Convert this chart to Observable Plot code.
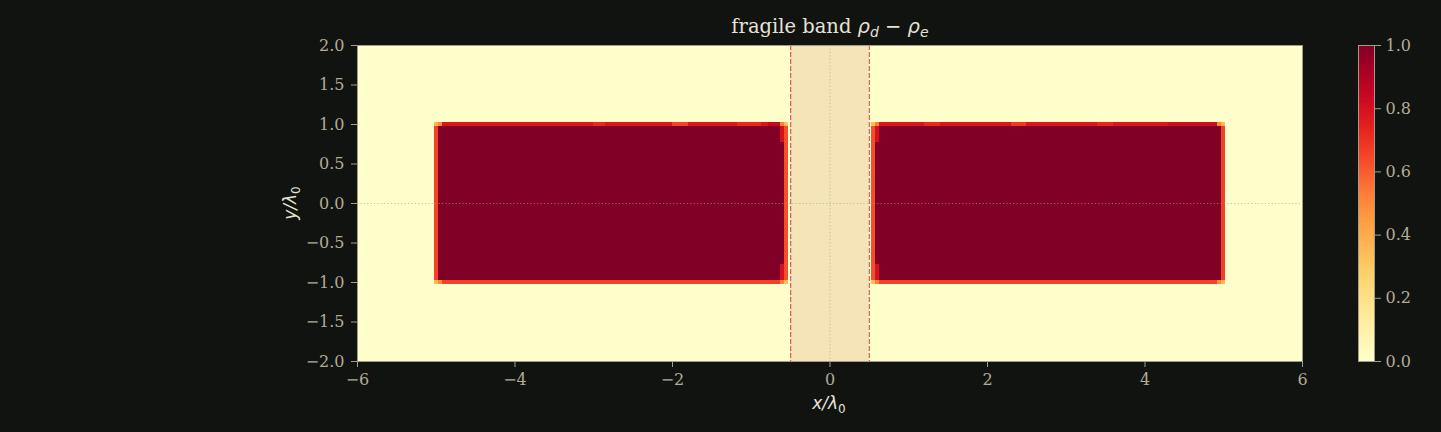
<!DOCTYPE html>
<html>
<head>
<meta charset="utf-8">
<script src="https://cdn.jsdelivr.net/npm/d3@7"></script>
<script src="https://cdn.jsdelivr.net/npm/@observablehq/plot@0.6"></script>
<style>
  html, body { margin: 0; padding: 0; background: #111311; }
  #wrap { position: relative; width: 1441px; height: 432px; background: #111311; }
  #wrap svg { position: absolute; left: 0; top: 0; }
</style>
</head>
<body>
<div id="wrap"></div>
<script>
// ---------- data ----------
const xTicks = [-6, -4, -2, 0, 2, 4, 6];
const yTicks = [-2.0, -1.5, -1.0, -0.5, 0.0, 0.5, 1.0, 1.5, 2.0];
const cbTicks = [0.0, 0.2, 0.4, 0.6, 0.8, 1.0];

// field domain (value 0 background)
const fieldX = [-6, 6];
const fieldY = [-2, 2];
const fieldValue = 0;

// solid blocks (value 1 interior)
const blockX1 = [-4.975, 0.575];
const blockX2 = [-0.575, 4.975];
const blockY1 = [-0.975, -0.975];
const blockY2 = [0.975, 0.975];
const blockValue = [1, 1];

// edge cells of the blocks (0.05-wide grid cells)
const edgeX1 = [
  // left block
  -5.025, -4.975, -4.975, -3.000, -2.000, -1.175, -0.775, -4.975, -0.575, -0.625, -0.625,
  -5.025, -4.975, -0.575, -0.625, -5.025, -4.975, -0.575, -0.625,
  // right block
   4.975,  0.575,  0.575,  1.200,  2.300,  3.400,  4.300,  0.575,  0.525,  0.575,  0.575,
   4.975,  4.925,  0.525,  0.575,  4.975,  4.925,  0.525,  0.575
];
const edgeX2 = [
  -4.975, -0.575, -0.575, -2.850, -1.800, -0.875, -0.575, -0.575, -0.525, -0.575, -0.575,
  -4.975, -4.925, -0.525, -0.575, -4.975, -4.925, -0.525, -0.575,
   5.025,  4.975,  4.975,  1.400,  2.500,  3.600,  4.975,  4.975,  0.575,  0.625,  0.625,
   5.025,  4.975,  0.575,  0.625,  5.025,  4.975,  0.575,  0.625
];
const edgeY1 = [
  -0.975,  0.975, 0.975, 0.975, 0.975, 0.975, 0.975, -1.025, -0.975,  0.775, -0.975,
   0.975,  0.975, 0.975, 0.975, -1.025, -1.025, -1.025, -1.025,
  -0.975,  0.975, 0.975, 0.975, 0.975, 0.975, 0.975, -1.025, -0.975,  0.775, -0.975,
   0.975,  0.975, 0.975, 0.975, -1.025, -1.025, -1.025, -1.025
];
const edgeY2 = [
   0.975,  1.025, 1.025, 1.025, 1.025, 1.025, 1.025, -0.975,  0.975,  0.975, -0.775,
   1.025,  1.025, 1.025, 1.025, -0.975, -0.975, -0.975, -0.975,
   0.975,  1.025, 1.025, 1.025, 1.025, 1.025, 1.025, -0.975,  0.975,  0.975, -0.775,
   1.025,  1.025, 1.025, 1.025, -0.975, -0.975, -0.975, -0.975
];
const edgeValue = [
  0.66, 0.78, 0.78, 0.72, 0.66, 0.72, 0.84, 0.66, 0.63, 0.80, 0.80,
  0.36, 0.50, 0.33, 0.52, 0.36, 0.50, 0.33, 0.52,
  0.66, 0.78, 0.78, 0.72, 0.68, 0.73, 0.82, 0.66, 0.63, 0.80, 0.80,
  0.36, 0.50, 0.33, 0.52, 0.36, 0.50, 0.33, 0.52
];

// fragile band and guide lines
const bandX = [-0.5, 0.5];
const guideX = [0];
const guideY = [0];

// ---------- tables ----------
const field = [{x1: fieldX[0], x2: fieldX[1], y1: fieldY[0], y2: fieldY[1], v: fieldValue}];
const blocks = blockX1.map((_, i) => ({x1: blockX1[i], x2: blockX2[i], y1: blockY1[i], y2: blockY2[i], v: blockValue[i]}));
const edges = edgeX1.map((_, i) => ({x1: edgeX1[i], x2: edgeX2[i], y1: edgeY1[i], y2: edgeY2[i], v: edgeValue[i]}));
const cells = [...field, ...blocks, ...edges];

const tickColor = "#b3ab95";
const spineColor = "#a39c86";
const colorOpt = {type: "linear", scheme: "YlOrRd", domain: [0, 1]};
const fmtMinus = d3.format("d");
const fmt1 = d3.format(".1f");

const main = Plot.plot({
  width: 1441, height: 432,
  marginLeft: 357, marginRight: 139, marginTop: 45, marginBottom: 71,
  x: {domain: [-6, 6]},
  y: {domain: [-2, 2]},
  color: colorOpt,
  style: {background: "transparent", fontFamily: "DejaVu Serif", fontSize: "16px", color: tickColor},
  marks: [
    Plot.rect(cells, {x1: "x1", x2: "x2", y1: "y1", y2: "y2", fill: "v", shapeRendering: "crispEdges"}),
    Plot.rect([bandX], {x1: d => d[0], x2: d => d[1], y1: () => -2, y2: () => 2, fill: "#f4e4b8"}),
    Plot.ruleX(guideX, {stroke: "#a8a08a", strokeWidth: 0.8, strokeDasharray: "1.2,2.2", strokeOpacity: 0.8}),
    Plot.ruleY(guideY, {stroke: "#a8a08a", strokeWidth: 0.8, strokeDasharray: "1.2,2.2", strokeOpacity: 0.8}),
    Plot.ruleX(bandX, {stroke: "#cd5c5c", strokeWidth: 1.3, strokeDasharray: "5,2", strokeOpacity: 0.9}),
    Plot.frame({stroke: spineColor, strokeWidth: 1}),
    Plot.axisX({ticks: xTicks, tickFormat: fmtMinus, tickSize: 6, tickPadding: 6, label: null, stroke: spineColor}),
    Plot.axisY({ticks: yTicks, tickFormat: fmt1, tickSize: 6, tickPadding: 7, label: null, stroke: spineColor})
  ]
});

const cbSteps = d3.range(0, 1, 0.004);
const cb = Plot.plot({
  width: 1441, height: 432,
  marginLeft: 1358, marginRight: 67, marginTop: 45, marginBottom: 71,
  x: {domain: [0, 1], axis: null},
  y: {domain: [0, 1]},
  color: colorOpt,
  style: {background: "transparent", fontFamily: "DejaVu Serif", fontSize: "16px", color: tickColor},
  marks: [
    Plot.rect(cbSteps, {x1: () => 0, x2: () => 1, y1: d => d, y2: d => Math.min(1, d + 0.008), fill: d => d + 0.002, shapeRendering: "crispEdges"}),
    Plot.frame({stroke: spineColor, strokeWidth: 1}),
    Plot.axisY({anchor: "right", ticks: cbTicks, tickFormat: fmt1, tickSize: 6, tickPadding: 5, label: null, stroke: spineColor})
  ]
});

const wrap = document.getElementById("wrap");
wrap.appendChild(main);
wrap.appendChild(cb);
cb.style.pointerEvents = "none";

// ---------- texts ----------
const svg = d3.select(main);
const labelColor = "#e6e2d6";

// title
const t = svg.append("text").attr("x", 830).attr("y", 33).attr("text-anchor", "middle")
  .attr("fill", labelColor).style("font-size", "19.5px").style("font-family", "DejaVu Serif");
t.append("tspan").text("fragile band ");
t.append("tspan").style("font-family", "DejaVu Sans").style("font-style", "italic").text("ρ");
t.append("tspan").style("font-family", "DejaVu Sans").style("font-style", "italic").style("font-size", "14px").attr("dy", 4).text("d");
t.append("tspan").style("font-family", "DejaVu Sans").attr("dy", -4).text(" − ");
t.append("tspan").style("font-family", "DejaVu Sans").style("font-style", "italic").text("ρ");
t.append("tspan").style("font-family", "DejaVu Sans").style("font-style", "italic").style("font-size", "14px").attr("dy", 4).text("e");

// x label
const xl = svg.append("text").attr("x", 829).attr("y", 409).attr("text-anchor", "middle")
  .attr("fill", labelColor).style("font-size", "17px").style("font-family", "DejaVu Sans");
xl.append("tspan").style("font-style", "italic").text("x/λ");
xl.append("tspan").style("font-size", "12px").attr("dy", 4).text("0");

// y label
const yl = svg.append("text").attr("transform", "translate(296,203) rotate(-90)").attr("text-anchor", "middle")
  .attr("fill", labelColor).style("font-size", "17px").style("font-family", "DejaVu Sans");
yl.append("tspan").style("font-style", "italic").text("y/λ");
yl.append("tspan").style("font-size", "12px").attr("dy", 4).text("0");
</script>
</body>
</html>
